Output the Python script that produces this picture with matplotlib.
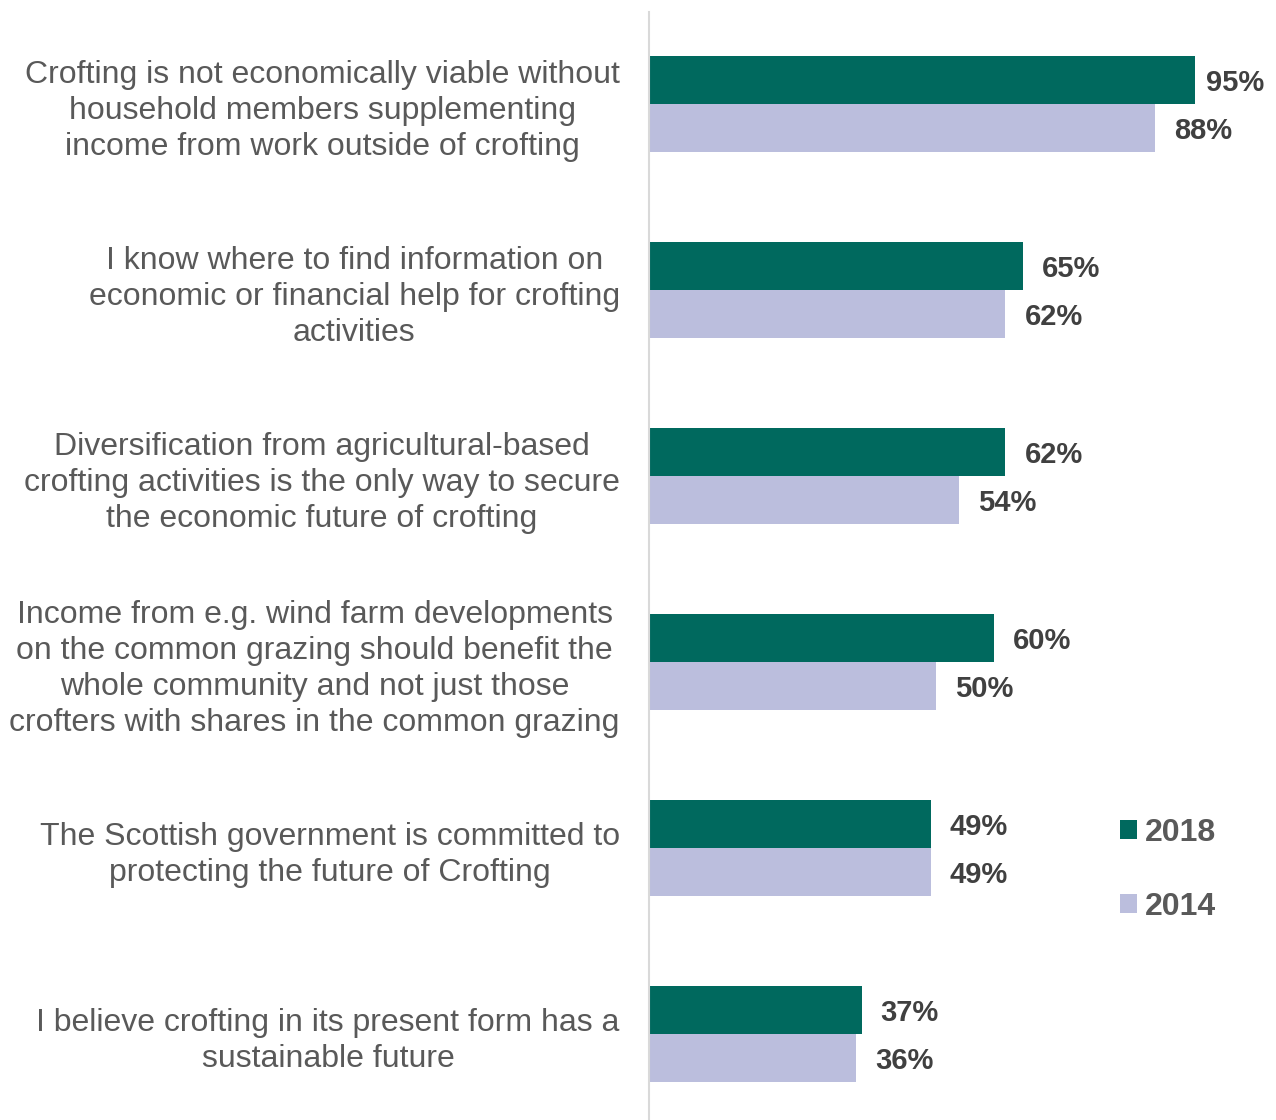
import matplotlib.pyplot as plt
import numpy as np

plt.rcParams["font.family"] = ["Liberation Sans", "DejaVu Sans"]

# ----------------------------------------------------------
# Survey statements and agreement shares
# ----------------------------------------------------------
statements = [
    "Crofting is not economically viable without\nhousehold members supplementing\nincome from work outside of crofting",
    "I know where to find information on\neconomic or financial help for crofting\nactivities",
    "Diversification from agricultural-based\ncrofting activities is the only way to secure\nthe economic future of crofting",
    "Income from e.g. wind farm developments\non the common grazing should benefit the\nwhole community and not just those\ncrofters with shares in the common grazing",
    "The Scottish government is committed to\nprotecting the future of Crofting",
    "I believe crofting in its present form has a\nsustainable future",
]
pct_2018 = [95, 65, 62, 60, 49, 37]
pct_2014 = [88, 62, 54, 50, 49, 36]

c2018 = "#00695E"
c2014 = "#BBBEDD"
text_col = "#595959"
value_col = "#404040"

fig = plt.figure(figsize=(12.76, 11.2), dpi=100)
ax = fig.add_axes([649 / 1276, 0.0, 575 / 1276, 1108 / 1120])

y = np.arange(len(statements))
h = 0.258

b1 = ax.barh(y - h / 2, pct_2018, height=h, color=c2018, label="2018")
b2 = ax.barh(y + h / 2, pct_2014, height=h, color=c2014, label="2014")

# value labels sit just right of each bar, squeezed in near the right edge
for bars, vals in [(b1, pct_2018), (b2, pct_2014)]:
    for bar, v in zip(bars, vals):
        ax.text(min(v + 3.3, 96.9), bar.get_y() + bar.get_height() / 2 + 0.015,
                f"{v}%", va="center", ha="left", fontsize=21,
                fontweight="bold", color=value_col)

ax.set_xlim(0, 100)
ax.set_ylim(5.46, -0.495)

ax.set_yticks(y)
ax.set_yticklabels(statements, fontsize=23, color=text_col,
                   multialignment="center", linespacing=1.26)
ax.tick_params(axis="y", length=0, pad=21)
ax.set_xticks([])

for s in ["top", "right", "bottom"]:
    ax.spines[s].set_visible(False)
ax.spines["left"].set_color("#D9D9D9")
ax.spines["left"].set_linewidth(1.5)

leg = fig.legend(loc="center left", bbox_to_anchor=(1091 / 1276, 1 - 870 / 1120),
                 frameon=False, fontsize=23, handlelength=0.55, handleheight=0.55,
                 handletextpad=0.25, labelspacing=1.38)
for t in leg.get_texts():
    t.set_color(text_col)
    t.set_fontweight("bold")

fig.savefig("out.png", dpi=100)
